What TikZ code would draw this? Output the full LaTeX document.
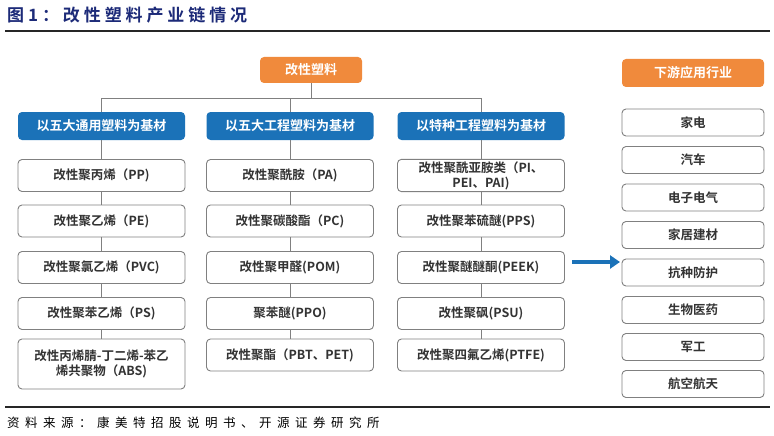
\documentclass[tikz,border=0pt]{standalone}
\usepackage{fontspec}
\usetikzlibrary{arrows.meta}
\newfontfamily\cjk{Noto Sans CJK SC}
\newfontfamily\cjkb{Noto Sans CJK SC Bold}
\newfontfamily\cjkspaced[LetterSpace=44]{Noto Sans CJK SC}
\newfontfamily\cjktitle[LetterSpace=23]{Noto Sans CJK SC Bold}
\definecolor{hblue}{HTML}{1B72B8}
\definecolor{horange}{HTML}{F08A3C}
\definecolor{bordergray}{HTML}{808080}
\definecolor{txtgray}{HTML}{333333}
\definecolor{titlenavy}{HTML}{1C2A78}
\tikzset{
  item/.style={draw=bordergray, line width=0.9pt, rounded corners=4pt, fill=white,
    minimum width=167pt, minimum height=32pt, align=center, text=txtgray,
    font=\cjkb\fontsize{12.5}{15}\selectfont, inner sep=2pt},
  appbox/.style={item, minimum width=142pt, minimum height=27pt},
  bluehead/.style={fill=hblue, rounded corners=4pt, minimum width=167pt, minimum height=28pt,
    text=white, font=\cjkb\fontsize{13}{15}\selectfont},
  orangehead/.style={fill=horange, rounded corners=4pt, text=white,
    font=\cjkb\fontsize{13}{15}\selectfont},
  conn/.style={draw=bordergray, line width=1pt},
  rule/.style={draw=black!85, line width=1.2pt}
}
\begin{document}
\begin{tikzpicture}[x=1pt,y=-1pt]
\useasboundingbox[fill=white] (0,0) rectangle (774,436);
% title
\node[anchor=west, text=titlenavy, font=\cjktitle\fontsize{17}{20}\selectfont, inner sep=0pt] (title) at (7,15) {图1：改性塑料产业链情况};
\coordinate (tl1) at (5,31);
\coordinate (tl2) at (770,31);
\draw[rule] (tl1) -- (tl2);
% top
\node[orangehead, minimum width=102pt, minimum height=26pt] (org) at (311,70) {改性塑料};
\node[orangehead, minimum width=142pt, minimum height=28pt] (app) at (693,73) {下游应用行业};
% headers
\node[bluehead] (h1) at (101.5,126) {以五大通用塑料为基材};
\node[bluehead] (h2) at (290,126) {以五大工程塑料为基材};
\node[bluehead] (h3) at (481,126) {以特种工程塑料为基材};
\coordinate (bus) at (311,98);
\draw[conn] (org.south) -- (bus);
\draw[conn] (bus) -| (h1.north);
\draw[conn] (bus) -| (h2.north);
\draw[conn] (bus) -| (h3.north);
% column 1
\node[item] (a1) at (101.5,175.5) {改性聚丙烯（PP)};
\node[item] (a2) at (101.5,221) {改性聚乙烯（PE)};
\node[item] (a3) at (101.5,267.5) {改性聚氯乙烯（PVC)};
\node[item] (a4) at (101.5,313.5) {改性聚苯乙烯（PS)};
\node[item, minimum height=50pt] (a5) at (101.5,364) {改性丙烯腈-丁二烯-苯乙\\烯共聚物（ABS)};
% column 2
\node[item] (b1) at (290,175.5) {改性聚酰胺（PA)};
\node[item] (b2) at (290,221) {改性聚碳酸酯（PC)};
\node[item] (b3) at (290,267.5) {改性聚甲醛(POM)};
\node[item] (b4) at (290,313.5) {聚苯醚(PPO)};
\node[item] (b5) at (290,355) {改性聚酯（PBT、PET)};
% column 3
\node[item] (c1) at (481,175.5) {改性聚酰亚胺类（PI、\\PEI、PAI)};
\node[item] (c2) at (481,221) {改性聚苯硫醚(PPS)};
\node[item] (c3) at (481,267.5) {改性聚醚醚酮(PEEK)};
\node[item] (c4) at (481,313.5) {改性聚砜(PSU)};
\node[item] (c5) at (481,355) {改性聚四氟乙烯(PTFE)};
\foreach \p/\q in {h1/a1,a1/a2,a2/a3,a3/a4,a4/a5,h2/b1,b1/b2,b2/b3,b3/b4,b4/b5,h3/c1,c1/c2,c2/c3,c3/c4,c4/c5}
  \draw[conn] (\p.south) -- (\q.north);
% applications
\node[appbox] (r1) at (693,122.5) {家电};
\node[appbox] (r2) at (693,160) {汽车};
\node[appbox] (r3) at (693,197.5) {电子电气};
\node[appbox] (r4) at (693,235) {家居建材};
\node[appbox] (r5) at (693,272.5) {抗种防护};
\node[appbox] (r6) at (693,310) {生物医药};
\node[appbox] (r7) at (693,347) {军工};
\node[appbox] (r8) at (693,384) {航空航天};
% arrow
\coordinate (ar1) at (572,262);
\coordinate (ar2) at (620,262);
\draw[hblue, line width=3.5pt, -{Triangle[length=10pt,width=13pt]}] (ar1) -- (ar2);
% bottom
\coordinate (bl1) at (5,407);
\coordinate (bl2) at (770,407);
\draw[rule] (bl1) -- (bl2);
\node[anchor=west, text=black, font=\cjkspaced\fontsize{12.5}{15}\selectfont, inner sep=0pt] (src) at (7,423) {资料来源：康美特招股说明书、开源证券研究所};
\end{tikzpicture}
\end{document}
